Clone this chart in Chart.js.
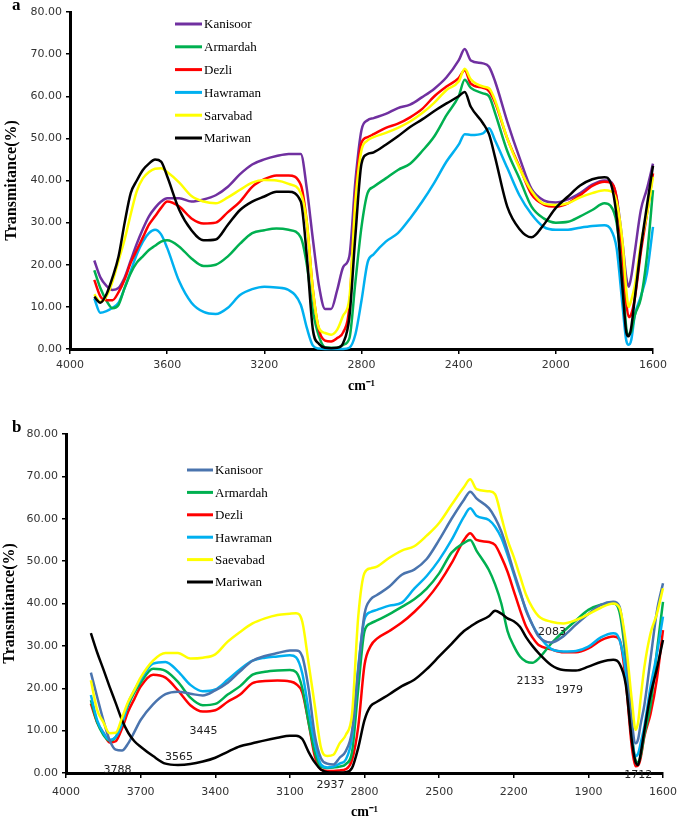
<!DOCTYPE html>
<html><head><meta charset="utf-8">
<script src="https://cdn.jsdelivr.net/npm/chart.js@4.4.1/dist/chart.umd.min.js"></script>
<style>
html,body{margin:0;padding:0;background:#fff;width:685px;height:818px;overflow:hidden;position:relative;}
canvas{position:absolute;left:0;}
#ca{top:0;} #cb{top:400px;}
.panel{position:absolute;font-family:"Liberation Serif",serif;font-weight:bold;font-size:17px;color:#000;line-height:1;}
</style></head><body>
<canvas id="ca" width="685" height="400"></canvas>
<canvas id="cb" width="685" height="418"></canvas>
<div class="panel" style="left:12px;top:-4px">a</div>
<div class="panel" style="left:12px;top:418px">b</div>
<script>
// ---------- Panel a data ----------
const wavenumbersA = [3900,3875,3850,3825,3800,3775,3750,3725,3700,3675,3650,3625,3600,
  3550,3500,3450,3400,3350,3300,3250,3200,3150,3100,3050,
  3025,3000,2975,2950,2925,2900,2875,2850,2825,2800,2775,2750,
  2700,2650,2600,2550,2500,2450,2400,
  2375,2350,
  2300,2275,2250,
  2200,2150,2100,2050,2000,1950,1900,1850,1800,
  1775,1750,1725,1710,1700,1690,1675,1650,1625,1600];
const kanisoorA = [21,17,15,14,14.5,17,21,25,28.5,31.5,33.5,35,35.8,
  35.8,35,35.5,36.5,38.5,41.5,43.8,45,45.8,46.3,46.3,
  38,26,15,9.5,9.5,14,19.5,22,40,52,54.3,54.8,
  55.8,57.2,58,59.8,61.8,64.5,68.5,
  71.2,68.5,
  67.8,67,63.5,
  54,45.5,38,35.3,34.8,35.5,37,39,40,
  39.8,36,25,17,14.8,17,23,33,38,44];
const armardahA = [18.7,14.5,11.5,9.7,10.5,14.5,18,20.5,22,23.5,24.5,25.5,25.8,
  24.3,21.5,19.7,20,22,25,27.5,28.2,28.6,28.3,26.5,
  20,9,3,0.4,0.3,0.3,1,2.5,16,29,37,38.5,
  40.5,42.5,44,47,50.5,55.5,60,
  63.9,62,
  60.7,60,56,
  47,40.5,33.8,31,30,30.2,31.5,33,34.6,
  34,30,17,5,3.5,4,8,12,22,37.7];
const dezliA = [16.4,12.5,11.6,11.6,13.5,16.5,20.5,23.5,26.5,29.5,31.5,33.5,35,
  33.8,31,29.8,30,32.5,35,38.5,40.3,41.2,41.2,39,
  30,14,4.5,2,1.8,2.6,4,10,36,49,50.3,51,
  52.5,53.5,55,57,60,62.3,64.3,
  66.2,63,
  62,61.2,58.5,
  50,43.3,36.7,34.3,33.8,34.6,36.5,38.7,39.7,
  39.5,36,22,11,7.6,8.2,12,23,32,41.7];
const hawramanA = [12,8.6,9,9.8,11,14.5,18.5,22.5,25.5,27.5,28.3,27.2,24,
  16,11,8.8,8.3,9.8,12.8,14.2,14.8,14.6,14,10.5,
  5,0.8,0.1,0,0,0,0,0.3,3.5,11.5,20.5,22.5,
  25.5,27.5,31,35,39.5,44.5,48.5,
  51,50.8,
  51.2,52.4,49.5,
  43,36.5,32,29,28.3,28.3,28.8,29.2,29.4,
  28.5,24,10,2,1,2,8,12.5,18,29];
const sarvabadA = [13,11.2,12.5,16,21,26,32,37.5,40.5,42,42.8,42.9,42,
  39.5,36.3,35,34.6,36,37.8,39.5,40.1,40,39.2,37,
  30,14,5,3.8,3.4,4.6,8,12,35,47.2,49.5,50.3,
  51.3,52.5,54,56,58.5,61.5,63.5,
  66.5,64,
  62.3,61.9,59,
  50,43,37.5,34.5,34.2,34.6,36,37,37.7,
  37.5,35,25,14,10,11.5,15,25,32,40.9];
const mariwanA = [12.4,11,13,17,22,30,37,40,42.5,44,45,44.5,41,
  33,28.2,25.8,26,29.5,33,35,36.2,37.3,37.3,35,
  22,4.5,1.2,0.3,0.2,0.3,1.5,7.5,27,44,46.3,46.7,
  48.5,50.5,52.7,54.5,56.5,58.3,60,
  61,57.5,
  53.6,51,45.5,
  33.8,28.5,26.5,29.5,33.5,36.2,38.8,40.3,40.8,
  39.5,31.5,14,4,3,5,12,24,34,43.5];
const xTicksA = [4000,3600,3200,2800,2400,2000,1600];

// ---------- Panel b data ----------
const wavenumbersB = [3900,3875,3850,3825,3800,3775,3750,3725,3700,
  3650,3600,3550,3500,3450,3400,3350,3300,3250,3200,3150,3100,
  3075,3050,3025,3000,2975,2950,2925,2900,2875,2850,2825,2800,2775,2750,
  2700,2650,2600,2550,2500,2450,2400,
  2375,2350,
  2300,2275,2250,2225,2200,2175,2150,2125,2100,
  2050,2000,1950,1900,1850,1800,
  1775,1750,1725,1710,1700,1690,1675,1650,1625,1600];
const kanisoorB = [23.7,18,12.5,7.8,5.5,5.3,7,9.7,12.5,
  16.2,18.6,19.2,18.7,18.3,19.5,21.3,24,26.5,27.6,28.3,28.9,
  28.9,27.5,20,9,3.5,2.2,2,3.6,5.2,10,24.5,37.5,41,42,
  44,46.8,48,50.5,55,60,64.5,
  66.4,64.8,
  62.5,60.2,57,52.5,47.5,43,38.2,35,32.2,
  30.8,32.3,35,37.5,39.7,40.4,
  39.3,29,12,7,8,11.5,16,27,38,44.8];
const armardahB = [17.2,12,9,7.6,8.5,12,16,19,21.3,
  24.6,24.1,21.5,17.8,16,16.3,18.5,20.5,23.2,23.9,24.2,24.3,
  23.8,20,12,5,1.5,1.2,1.3,1.5,2.1,5,20,33.5,35.3,36,
  37.5,39.2,41,43.5,47.1,52,54.3,
  55,52.5,
  47.9,44.5,40,33.5,30,27.5,26.3,26,27,
  30.5,33.4,36,38.5,39.7,40,
  38,27,9,3,2.5,4,9,16,28.5,40.4];
const dezliB = [16.4,12,9.5,7.2,7.5,10.5,14.5,17.5,20.4,
  23.2,22.5,19.5,16,14.5,14.8,16.8,18.5,21.2,21.7,21.8,21.6,
  21,19,12,4,0.8,0.5,0.5,0.6,0.9,3.1,11,25.5,30,31.7,
  33.5,35.5,38,41,44.8,49.5,55,
  56.6,55,
  54.5,53.8,51,47.5,43,38.5,34.5,32,30.2,
  29.2,28.5,28.5,29.4,31.3,32.2,
  31.5,22,6,1.6,1.8,3.5,8.6,14,22,33.7];
const hawramanB = [18.4,12.5,9.5,7.8,8.5,11.5,16.5,19.5,22,
  25.8,26.2,24,20.8,19.3,19.7,22,24.5,26.5,27.2,27.5,27.8,
  27.3,23.5,15,7,2,1.3,1.5,2.2,3.2,8.6,25,36.3,38,38.5,
  39.5,40.2,43.5,46.5,50.3,55,60.5,
  62.5,60.7,
  59.7,58.1,55.5,51.5,47,42.5,38.5,35,32.5,
  29.3,28.7,28.8,29.8,32,33,
  31.5,24,8.5,4,4.6,7,11,20.4,28,36.9];
const saevabadB = [21.9,14.9,12,9.4,9.5,13,16.8,19.6,22.5,
  26.5,28.3,28.3,27,27.2,28,31,33.3,35.3,36.5,37.3,37.6,
  37.7,35.7,26,16,6,4,4.3,7,9,14,37,47.2,48.3,48.7,
  50.8,52.5,53.5,56,59,63.3,67.5,
  69.3,67,
  66.5,65.8,60.5,55,51,46.5,42,39,37,
  35.7,35.3,36.1,37.5,39,40,
  39,31,17,10.2,12,17.5,25,33,37.5,43.6];
const mariwanB = [33,28.5,24.5,20.4,16.5,12.5,9.5,7.5,6.2,
  4,2.2,1.9,2.1,2.7,3.6,5,6.3,7,7.7,8.3,8.8,
  8.8,8,5,2.5,0.8,0.2,0.1,0.1,0.2,1.2,6,12.5,15.8,16.8,
  18.6,20.5,22,24.5,27.5,30.5,33.5,
  34.5,35.5,
  37,38.3,37.6,36.5,35.8,34.5,32,30,28.3,
  25.5,24.3,24.2,25.1,26.2,26.7,
  25.8,21,7.5,2.5,1.9,4.5,10,18.5,24.5,31.4];
const xTicksB = [4000,3700,3400,3100,2800,2500,2200,1900,1600];

// shared
const yTickValues = [0,10,20,30,40,50,60,70,80];
const annotationsB = [
  {text:'3788', w:3793, v:0.7},
  {text:'3565', w:3546, v:3.8},
  {text:'3445', w:3447, v:9.9},
  {text:'2937', w:2937, v:-2.8},
  {text:'2083', w:2046, v:33.3},
  {text:'2133', w:2133, v:21.7},
  {text:'1979', w:1978, v:19.6},
  {text:'1712', w:1700, v:-0.5}
];

const COLORS = {purple:'#7030A0', green:'#00B050', red:'#FF0000', sky:'#00B0F0', yellow:'#FFFF00', black:'#000000', steel:'#4A74AE'};

function pts(ws, vs){ return ws.map((w,i)=>({x:w, y:vs[i]})); }
function ds(label, ws, vs, color, order){
  return {label, data:pts(ws,vs), borderColor:color, backgroundColor:color, borderWidth:2.5,
    pointRadius:0, cubicInterpolationMode:'monotone', fill:false, order, clip:4};
}

const insetLegend = {
  id:'insetLegend',
  afterDraw(chart, args, opts){
    const ctx = chart.ctx;
    ctx.save();
    chart.data.datasets.forEach((d,i)=>{
      const y = opts.y0 + i*opts.dy;
      ctx.strokeStyle = d.borderColor; ctx.lineWidth = 3;
      ctx.beginPath(); ctx.moveTo(opts.x0, y); ctx.lineTo(opts.x1, y); ctx.stroke();
      ctx.fillStyle = '#000'; ctx.font = '13px "Liberation Serif", serif';
      ctx.textBaseline = 'middle'; ctx.textAlign = 'left';
      ctx.fillText(d.label, opts.x1 + 2, y + 1);
    });
    ctx.restore();
  }
};
const peakLabels = {
  id:'peakLabels',
  afterDraw(chart, args, opts){
    if(!opts.items) return;
    const ctx = chart.ctx, sx = chart.scales.x, sy = chart.scales.y;
    ctx.save();
    ctx.fillStyle = '#222'; ctx.font = '11px "DejaVu Sans", sans-serif';
    ctx.textAlign = 'center'; ctx.textBaseline = 'middle';
    opts.items.forEach(a=>ctx.fillText(a.text, sx.getPixelForValue(a.w), sy.getPixelForValue(a.v)));
    ctx.restore();
  }
};

function options(cfg){
  return {
    responsive:false, animation:false, devicePixelRatio:1,
    layout:{padding:{top:cfg.padTop, right:cfg.padRight, left:0, bottom:0}},
    plugins:{legend:{display:false}, tooltip:{enabled:false},
      insetLegend:cfg.legend, peakLabels:{items:cfg.labels}},
    scales:{
      x:{type:'linear', min:1600, max:4000, reverse:true,
        afterBuildTicks:s=>{ s.ticks = cfg.xTicks.map(v=>({value:v})); },
        afterFit:s=>{ s.height = cfg.xHeight; },
        ticks:{color:'#333', font:{family:'DejaVu Sans', size:11}, padding:cfg.xTickPad, maxRotation:0, autoSkip:false,
          callback:v=>String(v)},
        grid:{drawOnChartArea:false, drawTicks:true, tickLength:5, color:'#000', lineWidth:1.5},
        border:{display:true, color:'#000', width:3},
        title:{display:true, text:'cm⁻¹', color:'#000',
          font:{family:'Liberation Serif', size:14, weight:'bold', lineHeight:cfg.xTitleLH},
          padding:{top:0, bottom:cfg.xTitlePad}}
      },
      y:{type:'linear', min:0, max:80,
        afterBuildTicks:s=>{ s.ticks = yTickValues.map(v=>({value:v})); },
        afterFit:s=>{ s.width = cfg.yWidth; },
        ticks:{color:'#333', font:{family:'DejaVu Sans', size:11}, padding:4, callback:v=>Number(v).toFixed(2)},
        grid:{drawOnChartArea:false, drawTicks:true, tickLength:4, color:'#000', lineWidth:1.5},
        border:{display:true, color:'#000', width:3},
        title:{display:true, text:'Transmitance(%)', color:'#000',
          font:{family:'Liberation Serif', size:16, weight:'bold', lineHeight:1.2},
          padding:{top:cfg.yTitlePad, bottom:0}}
      }
    }
  };
}

new Chart(document.getElementById('ca'), {
  type:'line',
  data:{datasets:[
    ds('Kanisoor', wavenumbersA, kanisoorA, COLORS.purple, 3),
    ds('Armardah', wavenumbersA, armardahA, COLORS.green, 4),
    ds('Dezli', wavenumbersA, dezliA, COLORS.red, 2),
    ds('Hawraman', wavenumbersA, hawramanA, COLORS.sky, 5),
    ds('Sarvabad', wavenumbersA, sarvabadA, COLORS.yellow, 1),
    ds('Mariwan', wavenumbersA, mariwanA, COLORS.black, 0)
  ]},
  options:options({padTop:12, padRight:32, xHeight:51, yWidth:70, xTickPad:5, xTitleLH:1.2, xTitlePad:5,
    yTitlePad:2, xTicks:xTicksA, legend:{x0:175, x1:202, y0:24, dy:22.8}, labels:null}),
  plugins:[insetLegend, peakLabels]
});

new Chart(document.getElementById('cb'), {
  type:'line',
  data:{datasets:[
    ds('Kanisoor', wavenumbersB, kanisoorB, COLORS.steel, 2),
    ds('Armardah', wavenumbersB, armardahB, COLORS.green, 4),
    ds('Dezli', wavenumbersB, dezliB, COLORS.red, 5),
    ds('Hawraman', wavenumbersB, hawramanB, COLORS.sky, 3),
    ds('Saevabad', wavenumbersB, saevabadB, COLORS.yellow, 0),
    ds('Mariwan', wavenumbersB, mariwanB, COLORS.black, 1)
  ]},
  options:options({padTop:34, padRight:16, xHeight:45, yWidth:66, xTickPad:8, xTitleLH:0.85, xTitlePad:0,
    yTitlePad:0, xTicks:xTicksB, legend:{x0:187, x1:213, y0:70, dy:22.4}, labels:annotationsB}),
  plugins:[insetLegend, peakLabels]
});
</script></body></html>
